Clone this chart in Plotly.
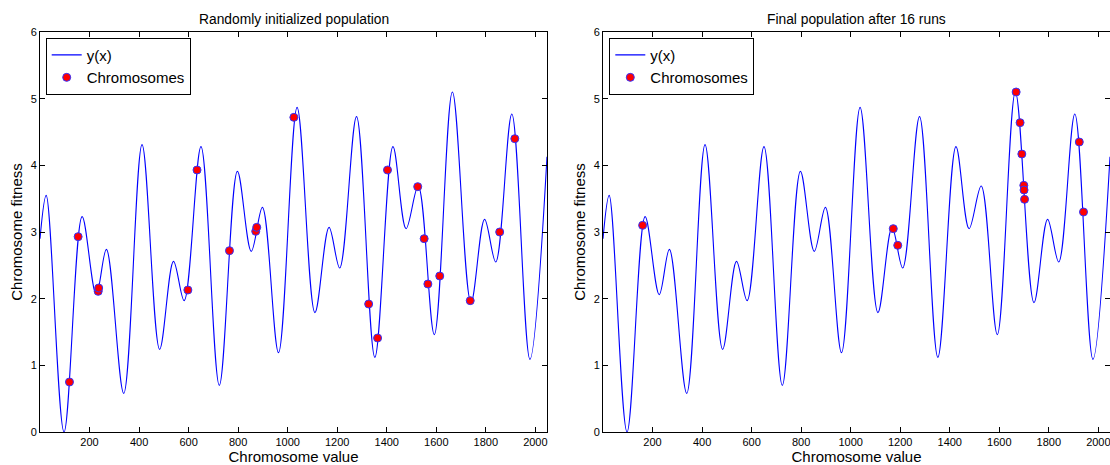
import plotly.graph_objects as go

# ---- data ----
curve_x = [0, 25, 97, 170, 227, 268, 338, 412, 483, 539, 582, 650, 724, 797, 853, 898,
           963, 1038, 1110, 1167, 1210, 1278, 1352, 1425, 1478, 1527, 1592, 1665, 1740,
           1795, 1840, 1905, 1978, 2047]
curve_y = [2.9, 3.55, 0.0, 3.23, 2.06, 2.74, 0.58, 4.31, 1.24, 2.56, 1.97, 4.28, 0.70, 3.91,
           2.71, 3.37, 1.19, 4.87, 1.79, 3.07, 2.46, 4.73, 1.12, 4.28, 3.05, 3.69, 1.46, 5.10,
           1.94, 3.19, 2.55, 4.77, 1.09, 4.13]

init_x = [119, 154, 235, 237, 597, 634, 765, 871, 875, 1025, 1327, 1363, 1403, 1525,
          1551, 1566, 1614, 1737, 1856, 1917]
init_y = [0.75, 2.93, 2.11, 2.16, 2.13, 3.93, 2.72, 3.01, 3.07, 4.72, 1.92, 1.41, 3.93, 3.68,
          2.90, 2.22, 2.34, 1.97, 3.00, 4.40]

final_x = [160, 1172, 1190, 1668, 1684, 1691, 1699, 1700, 1702, 1923, 1940]
final_y = [3.10, 3.05, 2.80, 5.10, 4.64, 4.17, 3.70, 3.63, 3.49, 4.35, 3.30]

titles = ["Randomly initialized population", "Final population after 16 runs"]
x_ticks = [200, 400, 600, 800, 1000, 1200, 1400, 1600, 1800, 2000]
y_ticks = [0, 1, 2, 3, 4, 5, 6]

FONT = "Liberation Sans, Arial, Helvetica, sans-serif"
W, H = 1110, 465
ML, MR, MT, MB = 40, 0, 32, 33
pw = W - ML - MR
dom_left = [0, (547 - ML) / pw]
dom_right = [(603 - ML) / pw, 1]

fig = go.Figure()

for i, (px, py) in enumerate([(init_x, init_y), (final_x, final_y)]):
    xa = "x" if i == 0 else "x2"
    ya = "y" if i == 0 else "y2"
    lg = "legend" if i == 0 else "legend2"
    fig.add_trace(go.Scatter(x=curve_x, y=curve_y, mode="lines", name="y(x)",
                             line=dict(color="rgb(0,0,255)", width=1.1, shape="spline", smoothing=1.0),
                             xaxis=xa, yaxis=ya, legend=lg, hoverinfo="skip"))
    fig.add_trace(go.Scatter(x=px, y=py, mode="markers", name="Chromosomes",
                             marker=dict(color="red", size=8,
                                         line=dict(color="rgb(50,50,255)", width=1)),
                             xaxis=xa, yaxis=ya, legend=lg))

axis_common = dict(showline=True, linecolor="black", linewidth=1, mirror="allticks",
                   ticks="inside", ticklen=5, tickcolor="black", tickwidth=1,
                   showgrid=False, zeroline=False, automargin=False,
                   ticklabeloverflow="allow",
                   tickfont=dict(family=FONT, size=11, color="black"))

x_title = dict(text="Chromosome value", font=dict(family=FONT, size=15, color="black"), standoff=0)
y_title = dict(text="Chromosome fitness", font=dict(family=FONT, size=15, color="black"), standoff=4)

legend_common = dict(y=0.986, xanchor="left", yanchor="top",
                     bordercolor="black", borderwidth=1, bgcolor="white",
                     font=dict(family=FONT, size=15, color="black"), tracegroupgap=0)

fig.update_layout(
    template="none",
    width=W, height=H,
    margin=dict(l=ML, r=MR, t=MT, b=MB, pad=0),
    paper_bgcolor="white", plot_bgcolor="white",
    font=dict(family=FONT, color="black"),
    xaxis=dict(domain=dom_left, range=[0, 2047], tickvals=x_ticks, title=x_title, anchor="y", **axis_common),
    yaxis=dict(domain=[0, 1], range=[0, 6], tickvals=y_ticks, title=y_title, anchor="x", **axis_common),
    xaxis2=dict(domain=dom_right, range=[0, 2047], tickvals=x_ticks, title=x_title, anchor="y2", **axis_common),
    yaxis2=dict(domain=[0, 1], range=[0, 6], tickvals=y_ticks, title=y_title, anchor="x2", **axis_common),
    legend=dict(x=(45.7 - ML) / pw, **legend_common),
    legend2=dict(x=(609.3 - ML) / pw, **legend_common),
    showlegend=True,
)

for i, t in enumerate(titles):
    d = dom_left if i == 0 else dom_right
    fig.add_annotation(text=t, x=(d[0] + d[1]) / 2, y=1, xref="paper", yref="paper",
                       xanchor="center", yanchor="bottom", yshift=3, showarrow=False,
                       font=dict(family=FONT, size=13.8, color="black"))

fig.write_html("out.html", config={"displayModeBar": False},
               post_script="document.body.style.margin='0';document.body.style.overflow='hidden';")
